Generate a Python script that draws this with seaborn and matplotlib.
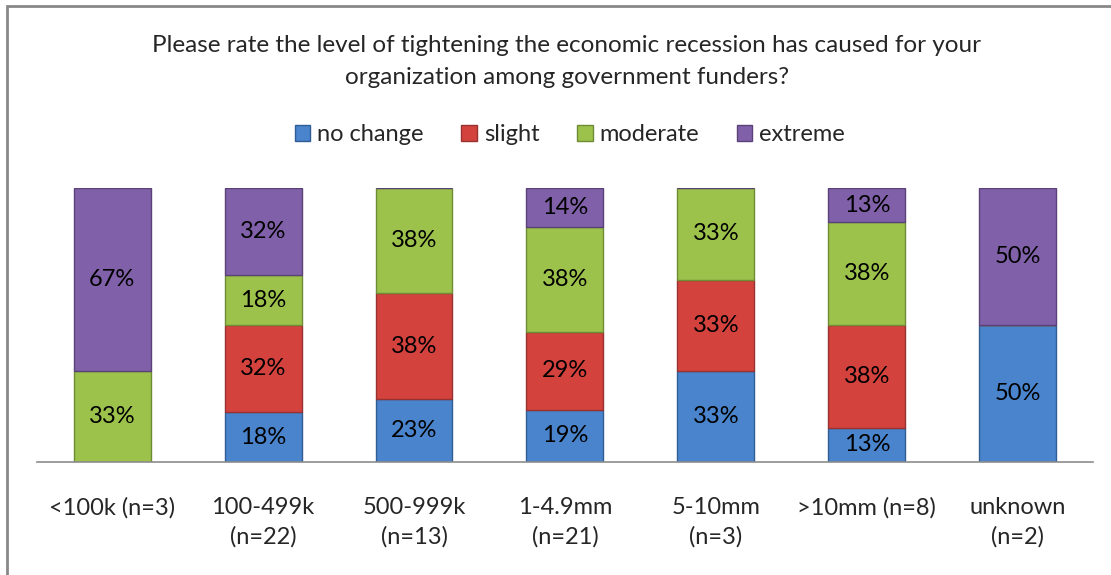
import matplotlib
matplotlib.use("Agg")
import matplotlib.pyplot as plt
import numpy as np
import pandas as pd
import seaborn as sns
from matplotlib.patches import Rectangle

# data (percent of respondents per budget group)
categories = ["<100k (n=3)", "100-499k\n(n=22)", "500-999k\n(n=13)", "1-4.9mm\n(n=21)",
              "5-10mm\n(n=3)", ">10mm (n=8)", "unknown\n(n=2)"]
no_change = [0, 18.2, 23.08, 19.0, 33.3, 12.5, 50.0]
slight = [0, 31.8, 38.46, 28.6, 33.3, 37.5, 0]
moderate = [33.3, 18.2, 38.46, 38.1, 33.3, 37.5, 0]
extreme = [66.7, 31.8, 0, 14.3, 0, 12.5, 50.0]

series = ["no change", "slight", "moderate", "extreme"]
colors = ["#4a84cc", "#d4423e", "#9cc24c", "#8060a8"]
edges = ["#2f5d94", "#973230", "#6f8c34", "#5a4278"]

title = ("Please rate the level of tightening the economic recession has caused for your\n"
         "organization among government funders?")

sns.set_theme(style="white")
plt.rcParams["font.family"] = ["Lato", "DejaVu Sans"]
FS = 17

df = pd.DataFrame({"category": categories, "no change": no_change, "slight": slight,
                   "moderate": moderate, "extreme": extreme})

fig = plt.figure(figsize=(11.11, 5.75), dpi=100)
ax = fig.add_axes([0.033, 0.1965, 0.951, 0.4765])

bottom = np.zeros(len(df))
for name, col, ec in zip(series, colors, edges):
    vals = df[name].to_numpy()
    sns.barplot(x=df["category"], y=vals, bottom=bottom, color=col, width=0.51,
                edgecolor=ec, linewidth=1.0, saturation=1, ax=ax, label=name)
    for i, v in enumerate(vals):
        if v > 0:
            ax.text(i, bottom[i] + v / 2, f"{int(v + 0.5)}%", ha="center", va="center",
                    fontsize=FS, color="black")
    bottom += vals

handles, labels = ax.get_legend_handles_labels()
if ax.get_legend() is not None:
    ax.get_legend().remove()

ax.set_ylim(0, 100)
ax.set_xlim(-0.5, len(df) - 0.5)
ax.set_yticks([])
ax.set_xlabel("")
ax.set_ylabel("")
for s in ["left", "right", "top"]:
    ax.spines[s].set_visible(False)
ax.spines["bottom"].set_color("#8c8c8c")
ax.spines["bottom"].set_linewidth(1.2)
ax.tick_params(axis="x", length=0, pad=25, labelsize=FS)
for lbl in ax.get_xticklabels():
    lbl.set_linespacing(1.45)

fig.legend(handles, labels, loc="center", bbox_to_anchor=(0.513, 0.766), ncol=4,
           frameon=False, fontsize=FS, handlelength=0.65, handleheight=0.65,
           handletextpad=0.3, columnspacing=1.6)

fig.text(0.51, 0.893, title, ha="center", va="center", fontsize=17.5, linespacing=1.6)

# outer chart border
fig.patches.append(Rectangle((7 / 1111, -0.1), 1.2, 1.1 - 6 / 575, transform=fig.transFigure,
                             fill=False, edgecolor="#888888", linewidth=2))

fig.savefig("out.png", dpi=100)
